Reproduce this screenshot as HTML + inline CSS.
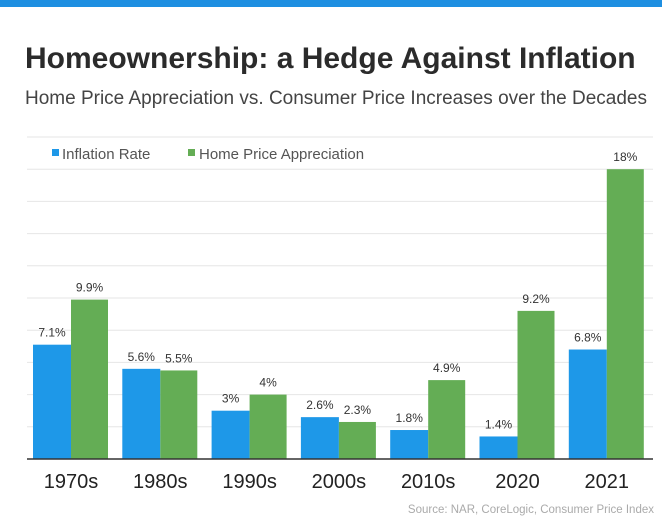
<!DOCTYPE html>
<html><head><meta charset="utf-8"><style>
body{margin:0;width:662px;height:527px;background:#fff;font-family:"Liberation Sans",sans-serif;overflow:hidden;position:relative}
</style></head><body>
<div style="position:absolute;left:0;top:0;width:662px;height:7px;background:#1e8fe1"></div>
<div style="position:absolute;left:25px;top:42px;font-size:30px;font-weight:bold;color:#2b2b2b;white-space:nowrap">Homeownership: a Hedge Against Inflation</div>
<div style="position:absolute;left:25px;top:88px;font-size:19px;color:#444;white-space:nowrap">Home Price Appreciation vs. Consumer Price Increases over the Decades</div>
<svg id="chart" width="662" height="527" style="position:absolute;left:0;top:0"></svg>
<script>
const categories=["1970s","1980s","1990s","2000s","2010s","2020","2021"];
const inflation=[7.1,5.6,3,2.6,1.8,1.4,6.8];
const homePrice=[9.9,5.5,4,2.3,4.9,9.2,18];
const inflLabels=["7.1%","5.6%","3%","2.6%","1.8%","1.4%","6.8%"];
const homeLabels=["9.9%","5.5%","4%","2.3%","4.9%","9.2%","18%"];
const gridTicks=[0,2,4,6,8,10,12,14,16,18,20];
const NS="http://www.w3.org/2000/svg";
const svg=document.getElementById('chart');
const y0=459,pxPer=16.1,x0=33,pitch=89.3;
const yS=v=>y0-v*pxPer;
const xS=i=>x0+i*pitch;
function mk(t,a,txt){const e=document.createElementNS(NS,t);for(const k in a)e.setAttribute(k,a[k]);if(txt!=null)e.textContent=txt;svg.appendChild(e);return e;}
gridTicks.forEach(t=>{if(t===0)return;
const l=mk('line',{x1:27,x2:653,y1:yS(t),y2:yS(t),stroke:'#e6e6e6','stroke-width':1});

});
const lg1=mk('rect',{x:52,y:149,width:7,height:7,fill:'#1e98e8'});


const lt1=mk('text',{x:62,y:159,'font-size':15,fill:'#555'},'Inflation Rate');


const lg2=mk('rect',{x:188,y:149,width:7,height:7,fill:'#64ad55'});


const lt2=mk('text',{x:199,y:159,'font-size':15,fill:'#555'},'Home Price Appreciation');


categories.forEach((c,i)=>{
const x=xS(i);
const b1=mk('rect',{x:x,y:yS(inflation[i]),width:38,height:inflation[i]*pxPer,fill:'#1e98e8'});


const b2=mk('rect',{x:x+38,y:yS(homePrice[i]),width:37,height:homePrice[i]*pxPer,fill:'#64ad55'});


const t1=mk('text',{x:x+19,y:yS(inflation[i])-8,'font-size':12,fill:'#333','text-anchor':'middle'},inflLabels[i]);


const t2=mk('text',{x:x+56.5,y:yS(homePrice[i])-8,'font-size':12,fill:'#333','text-anchor':'middle'},homeLabels[i]);


const cl=mk('text',{x:x+38,y:488,'font-size':20,fill:'#222','text-anchor':'middle'},c);


});
const ax=mk('line',{x1:27,x2:653,y1:y0,y2:y0,stroke:'#333','stroke-width':1.5});


const src=mk('text',{x:654,y:513,'font-size':11.5,fill:'#aaa','text-anchor':'end'},'Source: NAR, CoreLogic, Consumer Price Index');


</script>
</body></html>
